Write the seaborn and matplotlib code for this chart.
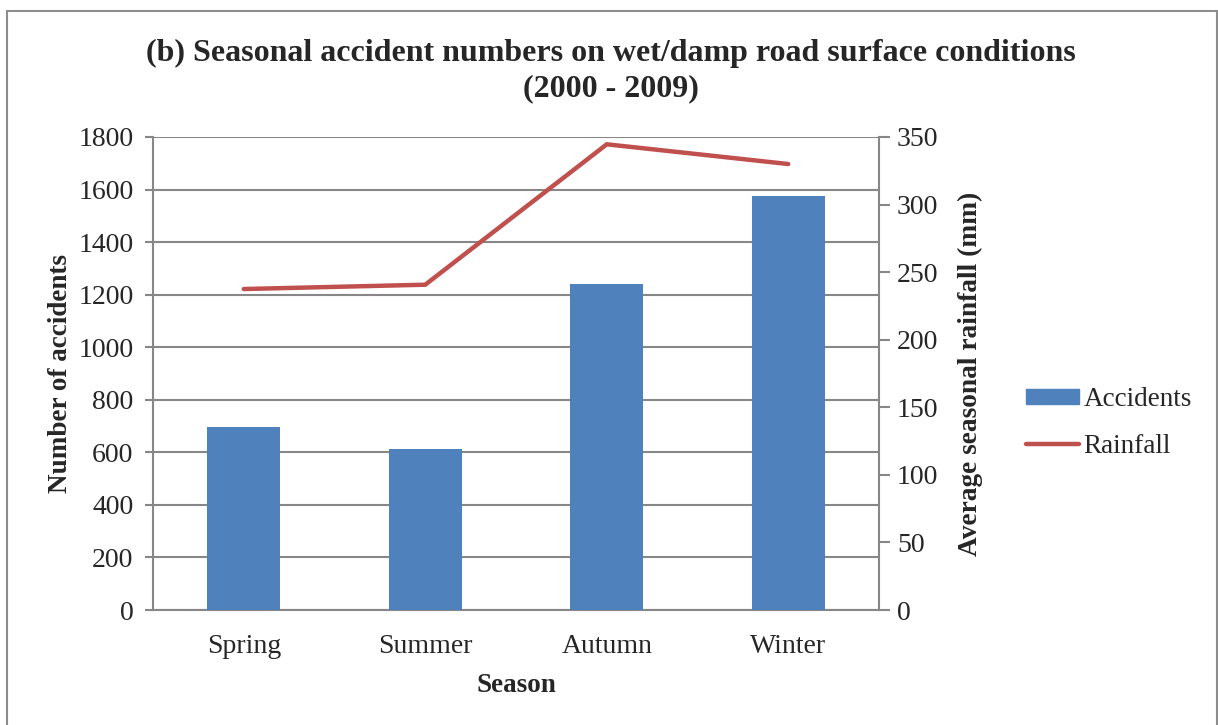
import matplotlib
matplotlib.use("Agg")
import matplotlib.pyplot as plt
import seaborn as sns
import numpy as np
from matplotlib.patches import Rectangle, Patch
from matplotlib.lines import Line2D

seasons = ["Spring", "Summer", "Autumn", "Winter"]
accidents = [695, 611, 1240, 1576]
rainfall = [237.5, 240.7, 344.6, 330.0]
left_ticks = [0, 200, 400, 600, 800, 1000, 1200, 1400, 1600, 1800]
right_ticks = [0, 50, 100, 150, 200, 250, 300, 350]

sns.set_style("white")
plt.rcParams['font.family'] = ['Liberation Serif', 'DejaVu Serif']

W, H = 1218, 725
fig = plt.figure(figsize=(W / 100, H / 100), dpi=100)
L, R, T, B = 153, 879, 137, 610
ax = fig.add_axes([L / W, 1 - B / H, (R - L) / W, (B - T) / H])

grid_c = "#878787"
bar_c = "#4F81BD"
line_c = "#C0504D"

sns.barplot(x=seasons, y=accidents, color=bar_c, width=0.4, ax=ax,
            saturation=1, zorder=3, linewidth=0)
ax.set_ylim(0, 1800)
ax.set_yticks(left_ticks)
ax.set_xlim(-0.5, 3.5)
ax.yaxis.grid(True, color=grid_c, linewidth=1.5, zorder=0)
ax.set_axisbelow(True)
for s in ["top", "right"]:
    ax.spines[s].set_visible(False)
for s in ["left", "bottom"]:
    ax.spines[s].set_color(grid_c)
    ax.spines[s].set_linewidth(1.5)
ax.tick_params(axis="y", which="both", direction="out", length=6, width=1.5,
               color=grid_c, labelsize=20, pad=8, left=True)
ax.tick_params(axis="x", length=0, labelsize=20, pad=17)
ax.set_xlabel("Season", fontsize=19.5, fontweight="bold", labelpad=10)
ax.set_ylabel("Number of accidents", fontsize=19.5, fontweight="bold", labelpad=4)

ax2 = ax.twinx()
sns.lineplot(x=seasons, y=rainfall, ax=ax2, color=line_c, linewidth=3.2,
             sort=False, solid_capstyle="round", solid_joinstyle="miter")
ax2.set_ylim(0, 350)
ax2.set_yticks(right_ticks)
for s in ["top", "left", "bottom"]:
    ax2.spines[s].set_visible(False)
ax2.spines["right"].set_color(grid_c)
ax2.spines["right"].set_linewidth(1.5)
ax2.tick_params(axis="y", direction="out", length=8, width=1.5, color=grid_c,
                labelsize=20, pad=5, right=True)
ax2.set_ylabel("Average seasonal rainfall (mm)", fontsize=19.7, fontweight="bold",
               labelpad=14)
ax2.set_xlim(-0.5, 3.5)

fig.text(611 / W, 1 - 53 / H,
         "(b) Seasonal accident numbers on wet/damp road surface conditions",
         ha="center", va="center", fontsize=23, fontweight="bold")
fig.text(611 / W, 1 - 89 / H, "(2000 - 2009)",
         ha="center", va="center", fontsize=23, fontweight="bold")

handles = [Patch(facecolor=bar_c, edgecolor=bar_c),
           Line2D([0], [0], color=line_c, linewidth=3.2)]
fig.legend(handles, ["Accidents", "Rainfall"], loc="center left",
           bbox_to_anchor=(1002 / W, 1 - 423 / H), frameon=False,
           fontsize=19.5, handlelength=1.95, handleheight=0.5,
           handletextpad=0.15, labelspacing=0.8)

fig.patches.append(Rectangle((7 / W, -0.1), (1217 - 7) / W, (H - 11) / H + 0.1,
                             transform=fig.transFigure, fill=False,
                             edgecolor="#8c8c8c", linewidth=1.5))

fig.savefig("out.png", dpi=100)
